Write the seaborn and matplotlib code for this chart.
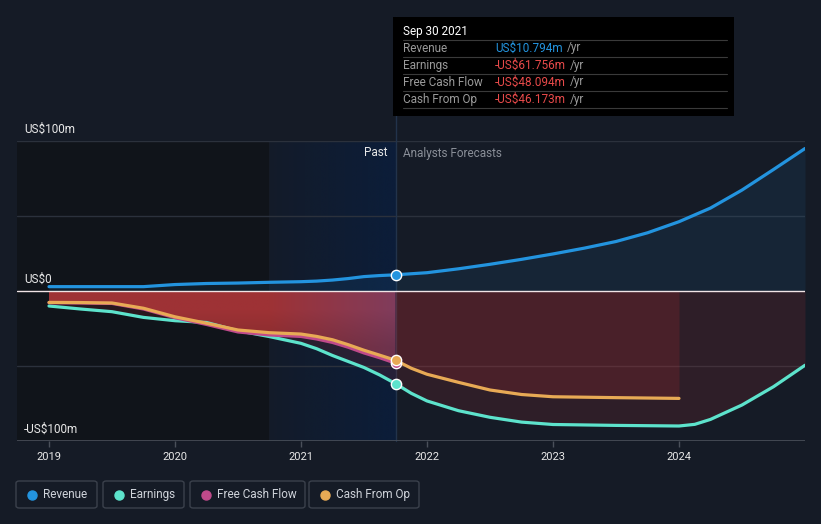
import numpy as np
import pandas as pd
import matplotlib
matplotlib.use("Agg")
import matplotlib.pyplot as plt
import seaborn as sns
from matplotlib.patches import FancyBboxPatch, Rectangle
from matplotlib.lines import Line2D

# ---------------- data (US$ millions) ----------------
past_years = [2019.0, 2019.25, 2019.5, 2019.75, 2020.0, 2020.25, 2020.5, 2020.75, 2021.0,
              2021.125, 2021.25, 2021.375, 2021.5, 2021.625, 2021.75]
revenue_past = [2.9, 2.9, 2.9, 2.9, 4.3, 5.0, 5.3, 5.8, 6.2, 6.6, 7.3, 8.3, 9.6, 10.3, 10.794]
earnings_past = [-10.0, -12.0, -13.8, -17.6, -19.8, -21.0, -26.5, -30.4, -34.9,
                 -38.5, -43.0, -47.0, -51.0, -56.0, -61.756]
fcf_past = [-7.8, -8.0, -8.3, -12.0, -17.8, -22.3, -27.3, -29.3, -30.3,
            -32.0, -34.3, -37.5, -41.3, -44.5, -48.094]
cfo_past = [-7.6, -7.7, -8.0, -11.5, -17.2, -21.5, -26.0, -27.8, -28.7,
            -30.3, -32.5, -35.8, -39.5, -42.8, -46.173]

rev_fc_years = [2021.75, 2022.0, 2022.25, 2022.5, 2022.75, 2023.0, 2023.25, 2023.5, 2023.75,
                2024.0, 2024.25, 2024.5, 2024.75, 2025.0]
revenue_fc = [10.794, 12.2, 14.8, 17.8, 21.1, 24.7, 28.6, 33.0, 38.8, 46.2, 55.3, 67.3, 81.0, 95.0]
earn_fc_years = [2021.75, 2021.875, 2022.0, 2022.25, 2022.5, 2022.75, 2023.0, 2023.5, 2024.0,
                 2024.125, 2024.25, 2024.5, 2024.75, 2025.0]
earnings_fc = [-61.756, -68.2, -73.3, -79.8, -84.2, -87.4, -89.0, -89.6, -90.0,
               -88.9, -85.6, -76.0, -63.8, -49.5]
cfo_fc_years = [2021.75, 2021.875, 2022.0, 2022.25, 2022.5, 2022.75, 2023.0, 2023.5, 2024.0]
cfo_fc = [-46.173, -51.5, -55.5, -60.9, -66.0, -69.0, -70.5, -71.1, -71.6]

year_ticks = [2019, 2020, 2021, 2022, 2023, 2024]
y_labels = ["US$100m", "US$0", "-US$100m"]
legend_names = ["Revenue", "Earnings", "Free Cash Flow", "Cash From Op"]
tooltip_rows = ["Revenue", "Earnings", "Free Cash Flow", "Cash From Op"]
tooltip_values = ["US$10.794m", "-US$61.756m", "-US$48.094m", "-US$46.173m"]

# ---------------- style ----------------
W, H = 821, 524
BG = "#151b26"
C_REV = "#2394df"
C_EARN = "#5de3cc"
C_FCF = "#c04a8a"
C_CFO = "#e8aa55"
C_NEG = "#e84a4a"
NOW = 2021.75

sns.set_theme(style="dark")
plt.rcParams["font.family"] = ["Roboto", "DejaVu Sans"]

fig = plt.figure(figsize=(W / 100, H / 100), dpi=100, facecolor=BG)
ax = fig.add_axes([17 / W, 83 / H, 788 / W, 300 / H])
ax.set_facecolor(BG)
XMIN, XMAX = 2019 - 32 / 126, 2025.0


def fx(px):
    return px / W


def fy(py):
    return 1 - py / H


# past dark region + highlight band
ax.axvspan(XMIN, NOW - 1, color="#10141a", zorder=0, lw=0)
band = np.zeros((2, 200, 4))
band[..., 0] = 10 / 255
band[..., 1] = 30 / 255
band[..., 2] = 62 / 255
band[..., 3] = np.linspace(0.15, 0.82, 200)[None, :]
ax.imshow(band, extent=[NOW - 1, NOW, -100, 100], aspect="auto", zorder=0.5, interpolation="bilinear")

# gridlines
for yv in [100, 50, -50]:
    ax.axhline(yv, color="#2b313c", lw=1, zorder=0.6)

# revenue fill
rev_x = past_years + rev_fc_years[1:]
rev_y = revenue_past + revenue_fc[1:]
ax.fill_between(rev_x, 0, rev_y, color=C_REV, alpha=0.09, lw=0, zorder=1)

# earnings fill
earn_x = past_years + earn_fc_years[1:]
earn_y = earnings_past + earnings_fc[1:]
ax.fill_between(earn_x, 0, earn_y, color=(0.78, 0.2, 0.22), alpha=0.14, lw=0, zorder=1)

# forecast cash-from-op fill
ax.fill_between(cfo_fc_years, 0, cfo_fc, color=(0.78, 0.18, 0.2), alpha=0.18, lw=0, zorder=1.1)

# past cash-from-op fill: gradient clipped to area
poly = ax.fill_between(past_years, 0, cfo_past, color="none", lw=0)
N = 300
xs = np.linspace(2019.0, NOW, N)
t = np.clip((xs - (NOW - 1)) / 1.0, 0, 1)
c0 = np.array([158, 50, 53]) / 255
c1 = np.array([128, 60, 92]) / 255
cols = c0[None, :] * (1 - t[:, None]) + c1[None, :] * t[:, None]
grad = np.ones((2, N, 4))
grad[..., :3] = cols[None, :, :]
grad[1, :, :3] *= 0.85
im = ax.imshow(grad, extent=[2019.0, NOW, -50, 0], aspect="auto", zorder=1.2, interpolation="bilinear")
im.set_clip_path(poly.get_paths()[0], transform=ax.transData)

# zero line & bottom axis
ax.axhline(0, color="#f0e4e6", lw=1, zorder=1.5)
ax.axhline(-100, color="#4a505a", lw=1.2, zorder=1.5)

# vertical "now" line
ax.plot([NOW, NOW], [-100, 100 + (141 - 17) / 1.5], color="#22334b", lw=1, zorder=0.8, clip_on=False)


def line(xv, yv, color, z):
    df = pd.DataFrame({"year": xv, "value": yv})
    sns.lineplot(data=df, x="year", y="value", ax=ax, color=color, lw=2.3, zorder=z,
                 estimator=None, sort=False, legend=False)


line(rev_x, rev_y, C_REV, 3)
line(earn_x, earn_y, C_EARN, 3)
line(past_years, fcf_past, C_FCF, 3.1)
cfo_x = past_years + cfo_fc_years[1:]
cfo_y = cfo_past + cfo_fc[1:]
line(cfo_x, cfo_y, C_CFO, 3.2)

for val, c, z in [(revenue_past[-1], C_REV, 4), (earnings_past[-1], C_EARN, 4),
                  (fcf_past[-1], C_FCF, 4.1), (cfo_past[-1], C_CFO, 4.2)]:
    ax.scatter([NOW], [val], s=55, color=c, edgecolor="white", linewidth=1, zorder=z)

ax.set_xlim(XMIN, XMAX)
ax.set_ylim(-100, 100)
ax.set_xlabel("")
ax.set_ylabel("")
ax.set_yticks([])
ax.set_xticks(year_ticks)
ax.set_xticklabels([str(y) for y in year_ticks])
ax.tick_params(axis="x", colors="#4a505a", length=4, width=1, pad=4, labelsize=8,
               labelcolor="#e8e8e8", bottom=True)
ax.grid(False)
for s in ax.spines.values():
    s.set_visible(False)

# y labels
for lab, py in zip(y_labels, [129, 279, 429]):
    fig.text(fx(24), fy(py), lab, color="#e8e8e8", fontsize=8.5, va="center", ha="left")

# past / forecast labels
fig.text(fx(387), fy(153), "Past", color="#e8e8e8", fontsize=8.5, va="center", ha="right")
fig.text(fx(403), fy(153), "Analysts Forecasts", color="#8a8f98", fontsize=8.5, va="center", ha="left")

# tooltip
fig.add_artist(Rectangle((fx(393), fy(116)), 341 / W, 99 / H, transform=fig.transFigure,
                         facecolor="black", edgecolor="none", zorder=10))
fig.text(fx(403), fy(31), "Sep 30 2021", color="white", fontsize=8.5, va="center", ha="left", zorder=11)
for ys in [40, 57, 74, 91, 108]:
    fig.add_artist(Line2D([fx(403), fx(727)], [fy(ys), fy(ys)], transform=fig.transFigure,
                          color="#3a3a3a", lw=0.8, zorder=11))
renderer = fig.canvas.get_renderer()
val_cols = [C_REV, C_NEG, C_NEG, C_NEG]
for i, (lab, val, col) in enumerate(zip(tooltip_rows, tooltip_values, val_cols)):
    yc = 48 + 17 * i
    fig.text(fx(403), fy(yc), lab, color="#9a9a9a", fontsize=8.5, va="center", ha="left", zorder=11)
    tv = fig.text(fx(495), fy(yc), val, color=col, fontsize=8.5, va="center", ha="left", zorder=11)
    bb = tv.get_window_extent(renderer)
    fig.text((bb.x1 + 4) / W, fy(yc), "/yr", color="#9a9a9a", fontsize=8.5, va="center",
             ha="left", zorder=11)

# legend boxes
boxes = [(16, 97), (103, 184), (190, 305), (309, 419)]
lcols = [C_REV, C_EARN, C_FCF, C_CFO]
for (x0, x1), name, c in zip(boxes, legend_names, lcols):
    fig.add_artist(FancyBboxPatch((fx(x0), fy(508)), (x1 - x0) / W, 27 / H,
                                  boxstyle="round,pad=0,rounding_size=0.004",
                                  transform=fig.transFigure, facecolor="none",
                                  edgecolor="#3b414c", lw=1))
    fig.add_artist(Line2D([fx(x0 + 16)], [fy(494.5)], marker="o", markersize=6.5, color=c,
                          transform=fig.transFigure, lw=0))
    fig.text(fx(x0 + 27), fy(494.5), name, color="#cfd3da", fontsize=8.5, va="center", ha="left")

fig.savefig("out.png", dpi=100, facecolor=BG)
